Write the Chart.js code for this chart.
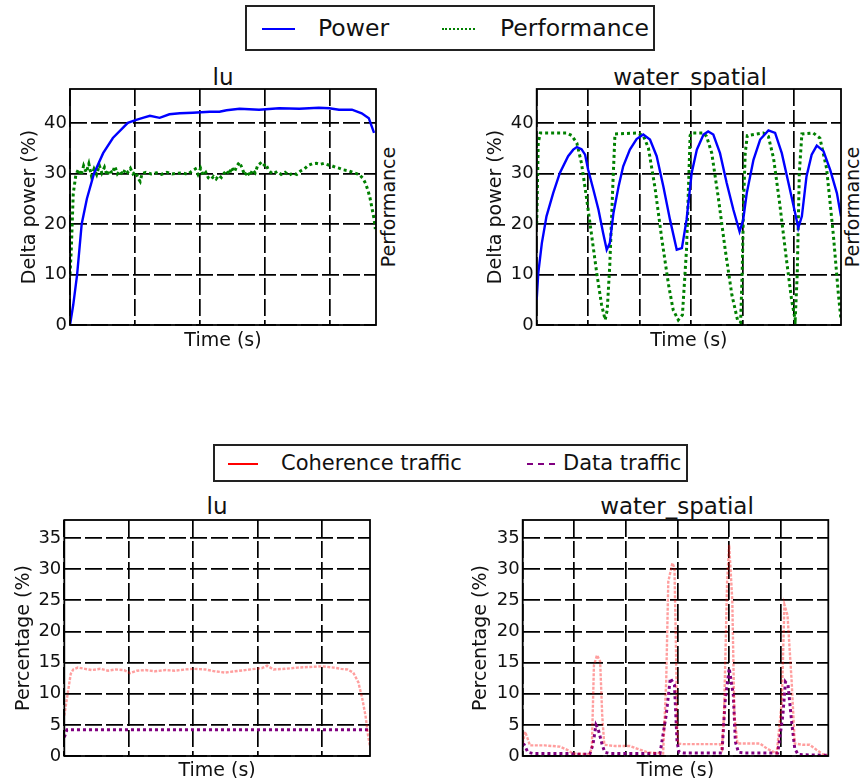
<!DOCTYPE html>
<html><head><meta charset="utf-8">
<script src="https://cdn.jsdelivr.net/npm/chart.js@4.4.0/dist/chart.umd.min.js"></script>
<style>
html,body{margin:0;padding:0;background:#fff;width:866px;height:778px;overflow:hidden;font-family:"DejaVu Sans",sans-serif;color:#111;}
canvas{position:absolute;}
.ttl{position:absolute;text-align:center;font-size:23px;line-height:23px;white-space:nowrap;}
.vlab{position:absolute;width:200px;height:20px;line-height:20px;text-align:center;font-size:19px;transform:rotate(-90deg);white-space:nowrap;}
.leg{position:absolute;border:2px solid #222;box-sizing:border-box;background:#fff;}
.leg span{position:absolute;white-space:nowrap;}
.leg i{position:absolute;height:0;}
</style>
</head><body>
<div class="leg" style="left:245px;top:5px;width:410px;height:46px;font-size:23.5px;">
  <i style="left:15px;top:21px;width:33px;border-top:2px solid #0000ff;"></i>
  <span style="left:71px;top:8px;line-height:26px;">Power</span>
  <i style="left:195px;top:21px;width:33px;border-top:2px dotted #008000;"></i>
  <span style="left:253px;top:8px;line-height:26px;">Performance</span>
</div>
<div class="leg" style="left:213px;top:444px;width:475px;height:38px;font-size:21px;">
  <i style="left:13px;top:17px;width:30px;border-top:2px solid #ff0000;"></i>
  <span style="left:66px;top:5px;line-height:24px;">Coherence traffic</span>
  <i style="left:312px;top:17px;width:28px;border-top:2px dashed #800080;"></i>
  <span style="left:348px;top:5px;line-height:24px;">Data traffic</span>
</div>

<div class="ttl" style="left:73px;width:300px;top:66px;">lu</div>
<div class="ttl" style="left:540px;width:300px;top:66px;">water_spatial</div>
<div class="ttl" style="left:67px;width:300px;top:495px;">lu</div>
<div class="ttl" style="left:527px;width:300px;top:495px;">water_spatial</div>
<div class="vlab" style="left:288px;top:197px;">Performance</div>
<div class="vlab" style="left:752px;top:197px;">Performance</div>

<canvas id="c1" width="384" height="296" style="left:16px;top:60px;"></canvas>
<canvas id="c2" width="384" height="296" style="left:482px;top:60px;"></canvas>
<canvas id="c3" width="400" height="296" style="left:10px;top:490px;"></canvas>
<canvas id="c4" width="399" height="296" style="left:467px;top:490px;"></canvas>

<script>
// ---------- lu : power / performance ----------
const luPowerT = [0,0.05,0.11,0.18,0.26,0.37,0.51,0.66,0.89,1.02,1.12,1.23,1.38,1.53,1.69,1.89,2.15,2.30,2.41,2.61,2.91,3.22,3.53,3.83,3.99,4.14,4.34,4.49,4.60,4.68];
const luPower  = [0,4,10,20,25,30,34,37,40,40.6,41.0,41.4,41.0,41.7,41.9,42.0,42.2,42.2,42.5,42.8,42.6,42.9,42.8,43.0,42.9,42.6,42.6,41.9,40.9,38];
const luPerfT = [0,0.02,0.05,0.09,0.13,0.17,0.21,0.25,0.29,0.33,0.37,0.41,0.45,0.49,0.53,0.57,0.61,0.65,0.69,0.73,0.77,0.81,0.85,0.89,0.93,0.97,1.01,1.05,1.08,1.11,1.17,1.25,1.33,1.41,1.49,1.57,1.65,1.73,1.81,1.87,1.93,1.97,2.01,2.05,2.09,2.13,2.17,2.21,2.25,2.29,2.33,2.37,2.41,2.45,2.49,2.53,2.57,2.61,2.65,2.69,2.73,2.77,2.81,2.85,2.89,2.93,2.97,3.01,3.05,3.09,3.13,3.19,3.25,3.31,3.37,3.43,3.49,3.55,3.61,3.67,3.73,3.79,3.85,3.91,3.97,4.03,4.09,4.15,4.21,4.29,4.37,4.45,4.51,4.55,4.59,4.62,4.65,4.68,4.70];
const luPerf  = [10,15,26,29.7,30.8,29.6,31.5,30.2,31.9,29.5,30.9,29.8,31.6,30.1,31.2,29.6,30.7,30.0,31.4,29.9,30.5,29.7,30.8,30.2,31.0,29.9,30.3,29.0,28.4,30.0,30.2,29.9,30.1,29.8,30.2,29.9,30.0,30.1,29.8,30.4,30.9,29.8,31.0,29.6,30.2,29.1,28.8,29.4,28.9,29.6,29.2,30.0,30.6,29.8,31.2,30.3,31.5,32.2,31.0,29.6,30.4,29.5,30.7,30.1,31.6,32.0,31.4,31.9,30.8,30.2,29.9,30.4,29.8,30.2,29.6,30.1,29.8,30.5,30.9,31.6,31.9,32.0,31.8,32.0,31.7,31.5,31.2,31.0,30.7,30.5,30.1,29.8,29.0,28.0,26.5,25.0,23.0,21.0,19.0];

// ---------- water_spatial : power / performance ----------
const wsPowerT = [0,0.03,0.10,0.19,0.32,0.45,0.61,0.71,0.78,0.87,0.94,1.00,1.10,1.20,1.29,1.36,1.42,1.49,1.59,1.68,1.81,1.94,2.07,2.20,2.33,2.46,2.59,2.72,2.82,2.91,3.01,3.11,3.24,3.33,3.43,3.56,3.69,3.82,3.94,4.01,4.08,4.21,4.34,4.50,4.63,4.76,4.89,5.02,5.08,5.15,5.24,5.34,5.44,5.57,5.70,5.83,5.91];
const wsPower  = [5,10.2,16.2,21.5,26.1,30.1,33.4,34.7,35.2,34.8,33.7,30.7,26.8,22.8,18.2,14.9,16.2,22.1,27.4,31.4,34.7,36.8,37.7,36.7,33.4,27.4,20.8,14.9,15.2,20.8,30.1,34.7,37.7,38.3,37.7,34.0,28.1,22.8,18.5,20.8,26.1,32.7,36.7,38.5,38.0,34.0,28.1,22.1,19.2,21.5,29.4,33.7,35.5,34.4,30.7,26.1,21.5];
const wsPerfT = [0,0.03,0.07,0.58,0.68,0.78,0.87,0.97,1.07,1.17,1.26,1.33,1.37,1.42,1.48,1.52,1.94,2.07,2.17,2.30,2.43,2.56,2.65,2.75,2.83,2.91,2.98,3.01,3.24,3.30,3.40,3.53,3.66,3.79,3.90,3.96,3.99,4.02,4.05,4.09,4.40,4.50,4.60,4.72,4.85,4.95,5.02,5.06,5.10,5.15,5.37,5.50,5.63,5.76,5.86,5.91];
const wsPerf  = [20,36,38,38,37.5,36,32,25,17.5,10,4,1,3,12,28,37.8,38,37.5,35,27,17,8,3,1,2,15,37.5,38,38,37.3,34,25,15,6,1,0.5,10,25,34,37.5,38,37.3,33,24,13,5,1,10,30,37.8,38,37,31,18,6,1];

// ---------- lu : traffic ----------
const luCohT = [0,0.06,0.10,0.14,0.21,0.32,0.43,0.56,0.68,0.80,0.93,1.02,1.13,1.26,1.41,1.57,1.72,1.88,2.00,2.19,2.34,2.50,2.65,2.81,2.97,3.07,3.15,3.25,3.43,3.62,3.82,4.01,4.18,4.30,4.40,4.49,4.57,4.63,4.68,4.72,4.75];
const luCoh  = [6.5,10.5,13.2,13.9,14.2,14.0,13.8,14.0,13.7,13.9,13.8,13.3,13.7,13.8,13.6,13.8,13.7,13.9,14.0,13.9,13.6,13.4,13.6,13.8,14.0,14.1,14.5,13.9,14.0,14.2,14.3,14.4,14.2,14.0,13.9,13.4,11.8,9.2,6.5,3.3,1.5];
const luDataT = [0,0.04,1,2,3,4,4.75];
const luData  = [3.0,4.2,4.2,4.2,4.2,4.2,4.2];

// ---------- water_spatial : traffic ----------
const wsCohT = [0,0.045,0.083,0.14,0.43,0.72,0.86,0.97,1.30,1.34,1.38,1.44,1.50,1.54,1.58,1.79,2.08,2.21,2.41,2.72,2.78,2.82,2.90,2.94,2.97,2.99,3.01,3.11,3.44,3.82,3.86,3.90,3.96,4.00,4.06,4.10,4.16,4.41,4.60,4.73,4.92,5.02,5.07,5.13,5.21,5.27,5.42,5.56,5.69,5.81,5.91];
const wsCoh  = [2.0,3.9,3.1,1.7,1.7,1.5,1.0,0.4,0.3,1.5,14.6,16.2,15.2,6.6,1.8,1.6,1.6,1.2,0.6,0.4,12,28,31.0,30.2,17,5,2.0,1.9,1.9,1.9,1.2,6.6,28,33.9,25,6.6,2.0,2.0,2.0,1.2,0.4,8.8,24.3,22.6,12,2.0,1.8,1.8,1.0,0.3,0.1];
const wsDataT = [0,0.03,0.10,0.20,0.92,1.01,1.30,1.36,1.42,1.46,1.54,1.59,1.69,2.66,2.78,2.86,2.94,2.99,3.03,3.11,3.86,3.92,4.00,4.08,4.12,4.18,4.28,4.94,5.04,5.09,5.14,5.21,5.27,5.33,5.42,5.92];
const wsData  = [2.0,1.8,0.6,0.4,0.4,0.3,0.3,1.8,5.0,4.4,1.8,0.6,0.4,0.4,6.6,12.5,11.4,2.3,0.6,0.5,0.5,8.7,14.1,9.8,2.3,0.6,0.5,0.5,6.6,11.9,11.4,5.5,1.2,0.3,0.2,0.1];

const F = "'DejaVu Sans', sans-serif";
const pts = (T, V) => T.map((t, i) => ({x: t, y: V[i]}));

const frame = {id: 'frame', afterDraw(c) {
  const a = c.chartArea, x = c.ctx;
  x.save(); x.setLineDash([]); x.strokeStyle = '#000'; x.lineWidth = 1.8;
  x.strokeRect(a.left, a.top, a.right - a.left, a.bottom - a.top); x.restore();
}};

function mk(id, g, datasets, xmax, ymax, ystep, ytitle) {
  const gridOpt = {color: '#000', lineWidth: 1.7, drawTicks: false};
  new Chart(document.getElementById(id), {
    type: 'line',
    data: {datasets},
    options: {
      responsive: false, animation: false, events: [],
      layout: {padding: {top: g.pt, right: g.pr, left: 0, bottom: 0}},
      plugins: {legend: {display: false}, tooltip: {enabled: false}, title: {display: false}},
      elements: {point: {radius: 0}, line: {tension: 0, borderCapStyle: 'butt'}},
      scales: {
        x: {type: 'linear', min: 0, max: xmax,
            ticks: {display: false, stepSize: 1, includeBounds: false},
            grid: gridOpt, border: {display: false, dash: [17, 4]},
            title: {display: true, text: 'Time (s)', color: '#111', font: {family: F, size: 19}, padding: {top: 0, bottom: 4}},
            afterFit: s => { s.height = g.xh; }},
        y: {type: 'linear', min: 0, max: ymax,
            ticks: {stepSize: ystep, includeBounds: false, color: '#111', font: {family: F, size: 18}, padding: 3},
            grid: gridOpt, border: {display: false, dash: [17, 4]},
            title: {display: true, text: ytitle, color: '#111', font: {family: F, size: 19}, padding: {top: 3, bottom: 0}},
            afterFit: s => { s.width = g.yw; }}
      }
    },
    plugins: [frame]
  });
}

const powerDs = (T, V) => ({label: 'Power', data: pts(T, V), borderColor: '#0000ff', borderWidth: 2.4});
const perfDs  = (T, V) => ({label: 'Performance', data: pts(T, V), borderColor: '#008000', borderWidth: 3, borderDash: [3, 3]});
const cohDs   = (T, V) => ({label: 'Coherence traffic', data: pts(T, V), borderColor: 'rgba(255,0,0,0.38)', borderWidth: 2.4, borderDash: [3, 1.5]});
const dataDs  = (T, V) => ({label: 'Data traffic', data: pts(T, V), borderColor: '#800080', borderWidth: 3, borderDash: [3, 3]});

mk('c1', {pt: 29, pr: 24, yw: 54, xh: 31}, [powerDs(luPowerT, luPower), perfDs(luPerfT, luPerf)], 4.71, 46.7, 10, 'Delta power (%)');
mk('c2', {pt: 29, pr: 25, yw: 54.7, xh: 31}, [powerDs(wsPowerT, wsPower), perfDs(wsPerfT, wsPerf)], 5.91, 46.7, 10, 'Delta power (%)');
mk('c3', {pt: 30, pr: 40, yw: 54.3, xh: 30}, [cohDs(luCohT, luCoh), dataDs(luDataT, luData)], 4.75, 37.9, 5, 'Percentage (%)');
mk('c4', {pt: 30, pr: 37.7, yw: 55.7, xh: 30}, [cohDs(wsCohT, wsCoh), dataDs(wsDataT, wsData)], 5.92, 37.9, 5, 'Percentage (%)');
</script>
</body></html>
